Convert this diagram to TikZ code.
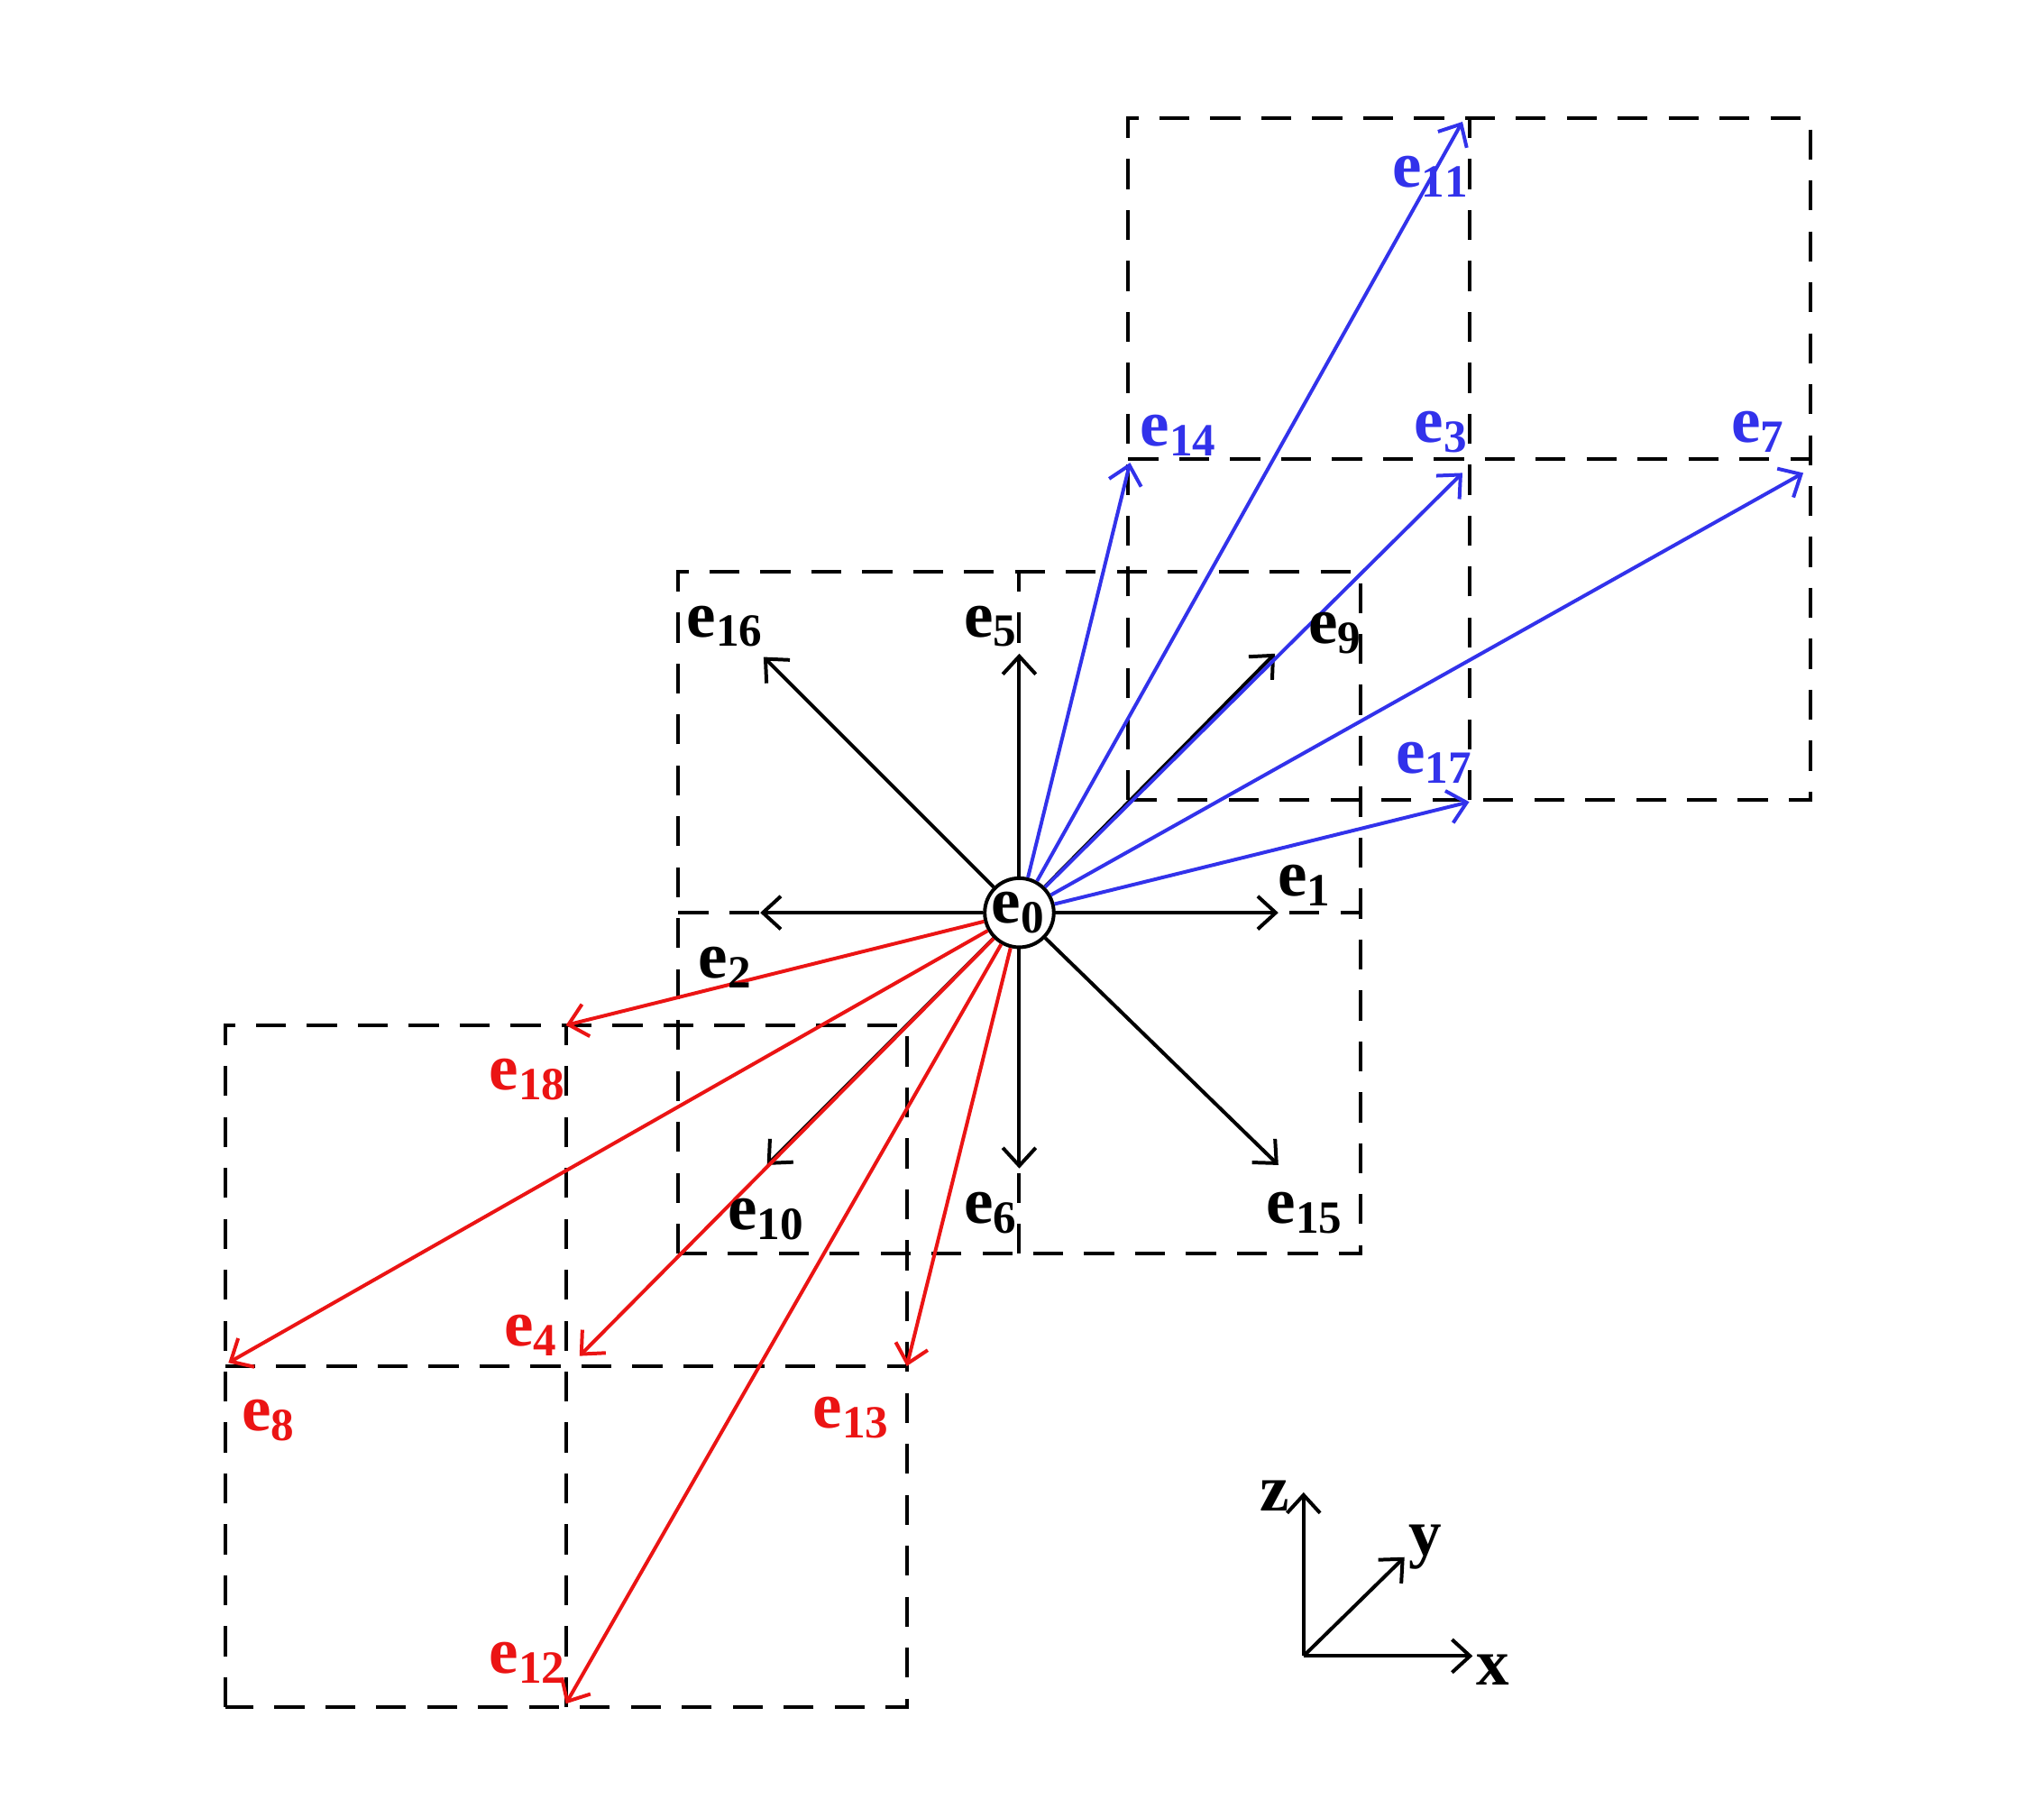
\documentclass[tikz,border=0pt]{standalone}
\usepackage{fontspec}
\setmainfont{Liberation Serif}
\usetikzlibrary{arrows.meta}
\definecolor{vblue}{RGB}{50,50,235}
\definecolor{vred}{RGB}{235,20,20}
\tikzset{
	cell/.style={semithick, dash pattern=on 5pt off 3.5pt},
	vec/.style={semithick, -{Straight Barb[length=3pt,width=5.5pt]}},
	lab/.style={font=\bfseries\fontsize{11}{13}\selectfont, inner sep=0pt}
}
\begin{document}
\begin{tikzpicture}[x=2cm,y=2cm]

	\useasboundingbox (-2.99,-2.654) rectangle (3.006,2.677);

	% cells
	\draw[cell] (-1,-1) rectangle (1,1);
	\draw[cell] (0,-1) -- (0,1);
	\draw[cell] (-1,0) -- (1,0);
	\draw[cell] (0.32,0.33) rectangle (2.32,2.33);
	\draw[cell] (1.32,0.33) -- (1.32,2.33);
	\draw[cell] (0.32,1.33) -- (2.32,1.33);
	\draw[cell] (-2.33,-2.33) rectangle (-0.33,-0.33);
	\draw[cell] (-1.33,-2.33) -- (-1.33,-0.33);
	\draw[cell] (-2.33,-1.33) -- (-0.33,-1.33);

	\node[draw, semithick, circle, fill=white, minimum size=0.2*2cm, inner sep=0pt, lab] (e0) at (0,0) {e$_{\mathbf{0}}$};

	% end points
	\coordinate (p1) at (0.76,0);
	\coordinate (p2) at (-0.76,0);
	\coordinate (p5) at (0,0.76);
	\coordinate (p6) at (0,-0.75);
	\coordinate (p9) at (0.75,0.76);
	\coordinate (p10) at (-0.74,-0.74);
	\coordinate (p15) at (0.76,-0.74);
	\coordinate (p16) at (-0.75,0.75);
	\coordinate (p3) at (1.30,1.29);
	\coordinate (p7) at (2.30,1.29);
	\coordinate (p11) at (1.30,2.32);
	\coordinate (p14) at (0.325,1.32);
	\coordinate (p17) at (1.32,0.325);
	\coordinate (p4) at (-1.29,-1.30);
	\coordinate (p8) at (-2.32,-1.32);
	\coordinate (p12) at (-1.33,-2.32);
	\coordinate (p13) at (-0.33,-1.33);
	\coordinate (p18) at (-1.33,-0.33);

	\foreach \i in {1,2,5,6,9,10,15,16}
		\draw[vec] (e0) -- (p\i);
	\foreach \i in {3,7,11,14,17}
		\draw[vec, vblue] (e0) -- (p\i);
	\foreach \i in {4,8,12,13,18}
		\draw[vec, vred] (e0) -- (p\i);

	% labels
	\node[lab] (l1) at (0.84,0.08) {e$_{\mathbf{1}}$};
	\node[lab] (l2) at (-0.86,-0.16) {e$_{\mathbf{2}}$};
	\node[lab] (l5) at (-0.08,0.84) {e$_{\mathbf{5}}$};
	\node[lab] (l6) at (-0.08,-0.88) {e$_{\mathbf{6}}$};
	\node[lab] (l9) at (0.93,0.82) {e$_{\mathbf{9}}$};
	\node[lab] (l10) at (-0.74,-0.9) {e$_{\mathbf{10}}$};
	\node[lab] (l15) at (0.84,-0.88) {e$_{\mathbf{15}}$};
	\node[lab] (l16) at (-0.86,0.84) {e$_{\mathbf{16}}$};
	\node[lab, vblue] (l3) at (1.24,1.41) {e$_{\mathbf{3}}$};
	\node[lab, vblue] (l7) at (2.17,1.41) {e$_{\mathbf{7}}$};
	\node[lab, vblue] (l11) at (1.21,2.16) {e$_{\mathbf{11}}$};
	\node[lab, vblue] (l14) at (0.47,1.40) {e$_{\mathbf{14}}$};
	\node[lab, vblue] (l17) at (1.22,0.44) {e$_{\mathbf{17}}$};
	\node[lab, vred] (l4) at (-1.43,-1.24) {e$_{\mathbf{4}}$};
	\node[lab, vred] (l8) at (-2.2,-1.49) {e$_{\mathbf{8}}$};
	\node[lab, vred] (l12) at (-1.44,-2.2) {e$_{\mathbf{12}}$};
	\node[lab, vred] (l13) at (-0.49,-1.48) {e$_{\mathbf{13}}$};
	\node[lab, vred] (l18) at (-1.44,-0.49) {e$_{\mathbf{18}}$};

	% axes
	\coordinate (o) at (0.834,-2.18);
	\coordinate (az) at (0.834,-1.70);
	\coordinate (ax) at (1.33,-2.18);
	\coordinate (ay) at (1.13,-1.89);
	\draw[vec] (o) -- (az);
	\draw[vec] (o) -- (ax);
	\draw[vec] (o) -- (ay);
	\node[lab] (lz) at (0.75,-1.71) {z};
	\node[lab] (ly) at (1.19,-1.86) {y};
	\node[lab] (lx) at (1.39,-2.22) {x};

\end{tikzpicture}
\end{document}
